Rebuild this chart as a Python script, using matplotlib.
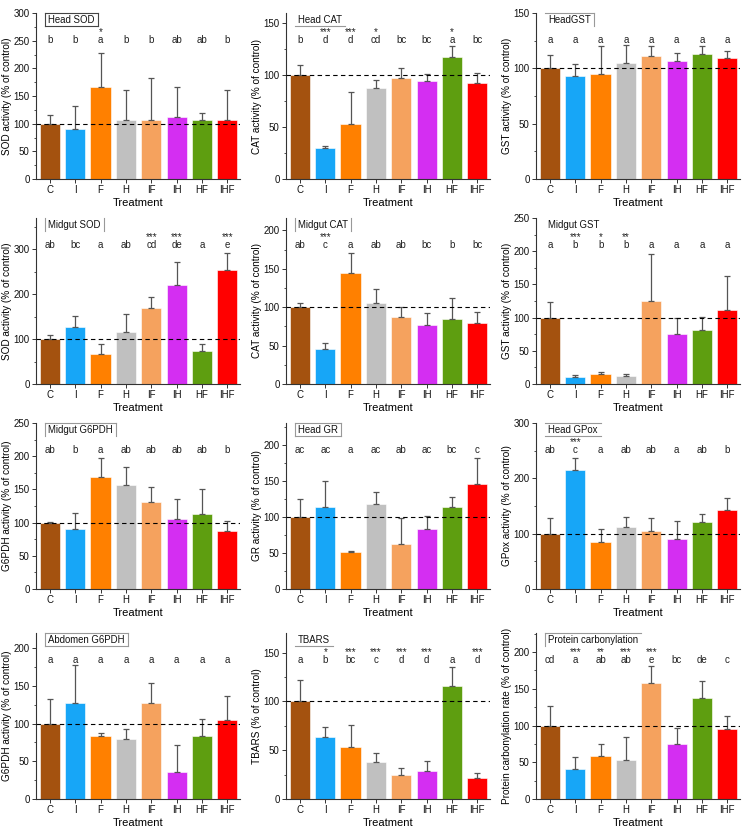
"""
Grid of 12 bar charts: oxidative stress markers per treatment (% of control)
"""

import matplotlib.pyplot as plt
import numpy as np

plt.rcParams['font.family'] = ['Liberation Sans', 'DejaVu Sans']

treatments = ['C', 'I', 'F', 'H', 'IF', 'IH', 'HF', 'IHF']
colors = ['#A4520F', '#17A6F7', '#FF8000', '#C0C0C0', '#F5A25E', '#D42EF2', '#5E9E10', '#FF0000']

# Head
head_sod_mean = [100, 90, 167, 106, 106, 112, 107, 106]
head_sod_err = [15, 42, 61, 54, 77, 54, 12, 54]
head_sod_letters = ['b', 'b', 'a', 'b', 'b', 'ab', 'ab', 'b']
head_sod_stars = ['', '', '*', '', '', '', '', '']

head_cat_mean = [100, 30, 53, 88, 97, 94, 118, 93]
head_cat_err = [10, 2, 31, 7, 10, 7, 10, 9]
head_cat_letters = ['b', 'd', 'd', 'cd', 'bc', 'bc', 'a', 'bc']
head_cat_stars = ['', '***', '***', '*', '', '', '*', '']

head_gst_mean = [100, 93, 95, 105, 111, 107, 113, 109]
head_gst_err = [12, 11, 25, 16, 9, 7, 7, 7]
head_gst_letters = ['a'] * 8
head_gst_stars = [''] * 8

# Midgut
midgut_sod_mean = [100, 127, 66, 115, 169, 221, 73, 255]
midgut_sod_err = [10, 25, 24, 40, 25, 52, 17, 36]
midgut_sod_letters = ['ab', 'bc', 'a', 'ab', 'cd', 'de', 'a', 'e']
midgut_sod_stars = ['', '', '', '', '***', '***', '', '***']

midgut_cat_mean = [100, 45, 145, 105, 87, 77, 84, 80]
midgut_cat_err = [5, 8, 26, 19, 13, 16, 28, 14]
midgut_cat_letters = ['ab', 'c', 'a', 'ab', 'ab', 'bc', 'b', 'bc']
midgut_cat_stars = ['', '***', '', '', '', '', '', '']

midgut_gst_mean = [100, 11, 15, 12, 125, 75, 82, 111]
midgut_gst_err = [24, 3, 3, 3, 71, 25, 19, 52]
midgut_gst_letters = ['a', 'b', 'b', 'b', 'a', 'a', 'a', 'a']
midgut_gst_stars = ['', '***', '*', '**', '', '', '', '']

midgut_g6pdh_mean = [100, 90, 168, 157, 131, 105, 113, 88]
midgut_g6pdh_err = [0.5, 24, 30, 27, 23, 31, 37, 15]
midgut_g6pdh_letters = ['ab', 'b', 'a', 'ab', 'ab', 'ab', 'ab', 'b']
midgut_g6pdh_stars = [''] * 8

head_gr_mean = [100, 113, 51, 118, 62, 83, 113, 146]
head_gr_err = [25, 37, 2, 17, 37, 18, 15, 35]
head_gr_letters = ['ac', 'ac', 'a', 'ac', 'ab', 'ac', 'bc', 'c']
head_gr_stars = [''] * 8

head_gpox_mean = [100, 215, 85, 112, 105, 91, 121, 143]
head_gpox_err = [28, 21, 24, 19, 24, 31, 14, 22]
head_gpox_letters = ['ab', 'c', 'a', 'ab', 'ab', 'a', 'ab', 'b']
head_gpox_stars = ['', '***', '', '', '', '', '', '']

abdomen_g6pdh_mean = [100, 127, 84, 79, 127, 36, 83, 105]
abdomen_g6pdh_err = [33, 51, 4, 14, 27, 35, 23, 31]
abdomen_g6pdh_letters = ['a'] * 8
abdomen_g6pdh_stars = [''] * 8

tbars_mean = [100, 63, 53, 38, 25, 29, 116, 21]
tbars_err = [22, 11, 23, 9, 7, 10, 19, 6]
tbars_letters = ['a', 'b', 'bc', 'c', 'd', 'd', 'a', 'd']
tbars_stars = ['', '*', '***', '***', '***', '***', '', '***']

carbonyl_mean = [100, 41, 59, 53, 158, 75, 138, 95]
carbonyl_err = [27, 16, 16, 32, 23, 21, 23, 18]
carbonyl_letters = ['cd', 'a', 'ab', 'ab', 'e', 'bc', 'de', 'c']
carbonyl_stars = ['', '***', '**', '***', '***', '', '', '']

# (title, ylabel, mean, err, letters, stars, ymax, major step, title frame edges)
panels = [
    ('Head SOD', 'SOD activity (% of control)', head_sod_mean, head_sod_err,
     head_sod_letters, head_sod_stars, 300, 50, 'lrtb'),
    ('Head CAT', 'CAT activity (% of control)', head_cat_mean, head_cat_err,
     head_cat_letters, head_cat_stars, 160, 50, 'b'),
    ('HeadGST', 'GST activity (% of control)', head_gst_mean, head_gst_err,
     head_gst_letters, head_gst_stars, 150, 50, 'tr'),
    ('Midgut SOD', 'SOD activity (% of control)', midgut_sod_mean, midgut_sod_err,
     midgut_sod_letters, midgut_sod_stars, 370, 100, 'lr'),
    ('Midgut CAT', 'CAT activity (% of control)', midgut_cat_mean, midgut_cat_err,
     midgut_cat_letters, midgut_cat_stars, 216, 50, 'lr'),
    ('Midgut GST', 'GST activity (% of control)', midgut_gst_mean, midgut_gst_err,
     midgut_gst_letters, midgut_gst_stars, 250, 50, ''),
    ('Midgut G6PDH', 'G6PDH activity (% of control)', midgut_g6pdh_mean, midgut_g6pdh_err,
     midgut_g6pdh_letters, midgut_g6pdh_stars, 250, 50, 'tlr'),
    ('Head GR', 'GR activity (% of control)', head_gr_mean, head_gr_err,
     head_gr_letters, head_gr_stars, 230, 50, 'lrtb'),
    ('Head GPox', 'GPox activity (% of control)', head_gpox_mean, head_gpox_err,
     head_gpox_letters, head_gpox_stars, 300, 100, 'tb'),
    ('Abdomen G6PDH', 'G6PDH activity (% of control)', abdomen_g6pdh_mean, abdomen_g6pdh_err,
     abdomen_g6pdh_letters, abdomen_g6pdh_stars, 220, 50, 'lrtb'),
    ('TBARS', 'TBARS (% of control)', tbars_mean, tbars_err,
     tbars_letters, tbars_stars, 170, 50, 'b'),
    ('Protein carbonylation', 'Protein carbonylation rate (% of control)', carbonyl_mean, carbonyl_err,
     carbonyl_letters, carbonyl_stars, 226, 50, 'tl'),
]

W, H = 748, 834
fig = plt.figure(figsize=(W / 100, H / 100), dpi=100)

col_left = [36, 286, 536]
row_top = [13, 218, 423, 633]
ax_w, ax_h = 204, 166

x = np.arange(len(treatments))
titles = []
for i, (title, ylabel, mean, err, letters, stars, ymax, step, edges) in enumerate(panels):
    r, c = divmod(i, 3)
    left = col_left[c] / W
    bottom = 1 - (row_top[r] + ax_h) / H
    ax = fig.add_axes([left, bottom, ax_w / W, ax_h / H])

    ax.bar(x, mean, width=0.8, color=colors, edgecolor='white', linewidth=0.4, zorder=2)
    ax.errorbar(x, mean, yerr=[np.zeros(len(err)), err], fmt='none', ecolor='#555555',
                elinewidth=0.9, capsize=2.2, capthick=0.9, zorder=3)
    ax.axhline(100, color='black', linestyle=(0, (4, 3)), linewidth=0.8, zorder=4)

    for j in range(len(treatments)):
        ax.text(x[j], 0.835, letters[j], transform=ax.get_xaxis_transform(),
                ha='center', va='center', fontsize=7, color='#222222')
        if stars[j]:
            ax.text(x[j], 0.888, stars[j], transform=ax.get_xaxis_transform(),
                    ha='center', va='center', fontsize=7, color='#222222')

    t = ax.text(0.06, 0.958, title, transform=ax.transAxes, ha='left', va='center',
                fontsize=6.9, color='#111111')
    titles.append((ax, t, edges, i == 0))

    ax.set_xlim(-0.55, 7.5)
    ax.set_ylim(0, ymax)
    ax.set_yticks(np.arange(0, ymax + 1, step))
    ax.set_yticks(np.arange(0, ymax + 1, step / 2), minor=True)
    ax.set_xticks(x)
    ax.set_xticklabels(treatments)
    ax.spines['top'].set_visible(False)
    ax.spines['right'].set_visible(False)
    for s in ['left', 'bottom']:
        ax.spines[s].set_linewidth(0.8)
        ax.spines[s].set_color('#333333')
    ax.tick_params(axis='both', which='major', direction='out', length=3, width=0.7,
                   labelsize=7, pad=1.5, colors='#333333', labelcolor='#111111')
    ax.tick_params(axis='y', which='minor', direction='out', length=1.8, width=0.6,
                   colors='#333333')
    ax.set_xlabel('Treatment', fontsize=8, labelpad=2)
    ax.set_ylabel(ylabel, fontsize=7.2, labelpad=1.5)

# frame lines around panel titles
fig.canvas.draw()
renderer = fig.canvas.get_renderer()
for ax, t, edges, dark in titles:
    bb = t.get_window_extent(renderer).transformed(ax.transAxes.inverted())
    px = 3 / ax_w
    py = 1.5 / ax_h
    x0, x1 = bb.x0 - px, bb.x1 + px
    y0, y1 = bb.y0 - py, bb.y1 + py
    col = '#444444' if dark else '#999999'
    segs = {'l': ([x0, x0], [y0, y1]), 'r': ([x1, x1], [y0, y1]),
            't': ([x0, x1], [y1, y1]), 'b': ([x0, x1], [y0, y0])}
    for e in edges:
        xs, ys = segs[e]
        ax.plot(xs, ys, transform=ax.transAxes, color=col, linewidth=0.8, clip_on=False)

plt.savefig('out.png', dpi=100)
